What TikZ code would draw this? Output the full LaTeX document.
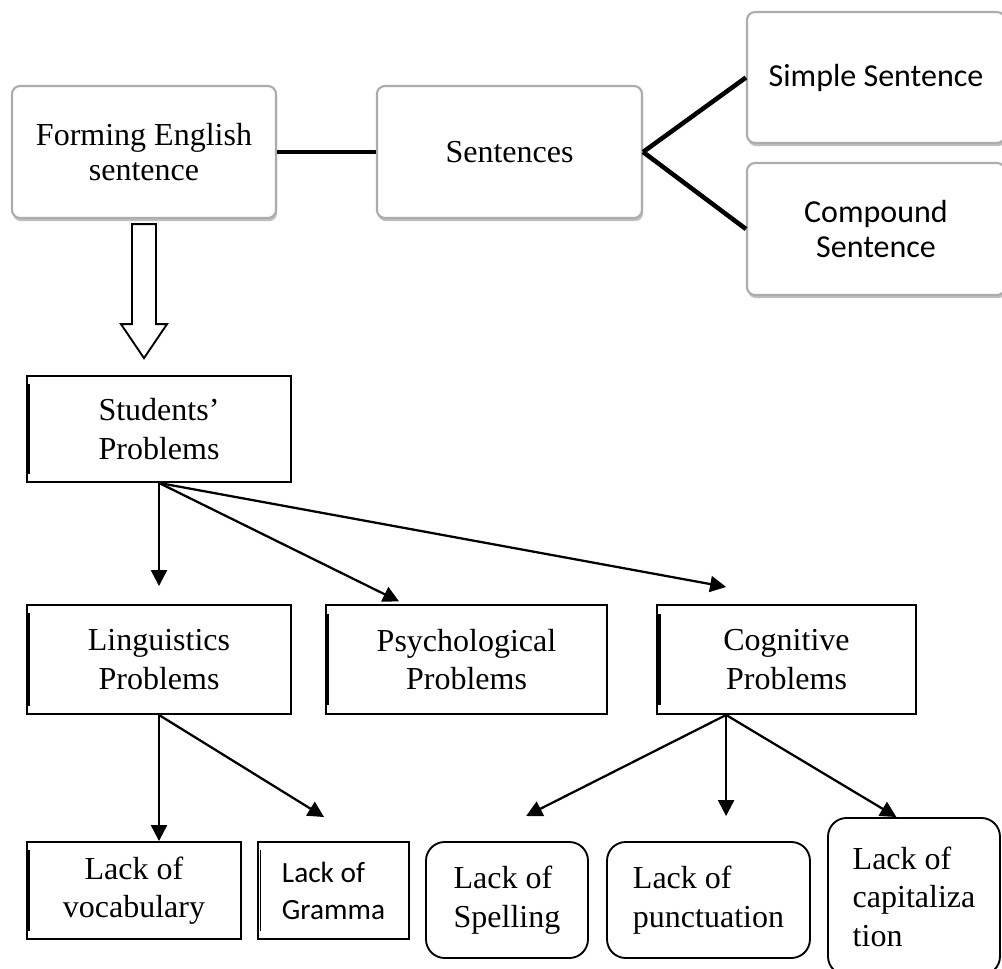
\documentclass[tikz,border=0pt]{standalone}
\usepackage{fontspec}
\setmainfont{Liberation Serif}
\newfontfamily\calibri{Carlito}
\usetikzlibrary{shadows,calc,arrows.meta}

\tikzset{
  shadebox/.style={draw=gray!65, line width=0.8pt, rounded corners=3pt, fill=white,
    drop shadow={shadow xshift=0.4pt, shadow yshift=-1.2pt, opacity=0.5, fill=gray},
    align=center, font=\fontsize{12}{13}\selectfont},
  probbox/.style={draw, line width=0.7pt, fill=white, align=center, font=\fontsize{12}{14.4}\selectfont},
  lackbox/.style={draw, line width=0.7pt, rounded corners=7pt, align=left, font=\fontsize{12}{14.4}\selectfont},
  thickline/.style={line width=1.7pt},
  arr/.style={line width=0.85pt, -{Triangle[length=6pt,width=6pt]}},
}

\begin{document}
\begin{tikzpicture}[x=0.375pt, y=-0.375pt]
\useasboundingbox (0,0) rectangle (1002,969);
\clip (0,0) rectangle (1002,969);

% sentence forms
\node[shadebox, minimum width=99pt, minimum height=49.5pt] (form) at (144,152) {Forming English\\sentence};
\node[shadebox, minimum width=99.4pt, minimum height=49.5pt] (sent) at (509.5,152) {Sentences};
\node[shadebox, minimum width=96.75pt, minimum height=49.1pt, font=\calibri\fontsize{12}{13}\selectfont] (simple) at (876,77.5) {Simple Sentence};
\node[shadebox, minimum width=96.75pt, minimum height=49.5pt, font=\calibri\fontsize{12}{13}\selectfont] (compound) at (876,229) {Compound\\Sentence};

\draw[thickline] (form.east) -- (sent.west);
\draw[thickline] (sent.east) -- (simple.west);
\draw[thickline] (sent.east) -- (compound.west);

% big hollow arrow
\draw[line width=0.7pt, fill=white] ([xshift=-4.5pt,yshift=-1.9pt]form.south) -- ++(0,100) -- ++(-11,0)
  -- ++(23,34) -- ++(23,-34) -- ++(-11,0) -- ++(0,-100) -- cycle;

% problems
\node[probbox, minimum width=99pt, minimum height=39.75pt] (stud) at (159,429) {Students’\\Problems};
\node[probbox, minimum width=99pt, minimum height=40.9pt] (ling) at (159,659.5) {Linguistics\\Problems};
\node[probbox, minimum width=105.4pt, minimum height=40.9pt] (psych) at (466.5,659.5) {Psychological\\Problems};
\node[probbox, minimum width=97.1pt, minimum height=40.9pt] (cogn) at (786.5,659.5) {Cognitive\\Problems};

% lacks
\node[probbox, minimum width=80.25pt, minimum height=36.4pt] (vocab) at (134,890.5) {Lack of\\vocabulary};
\node[probbox, align=left, minimum width=56.6pt, minimum height=36.4pt, font=\calibri\fontsize{11}{13.9}\selectfont] (gram) at (333.5,890.5) {Lack of\\Gramma};
\node[lackbox, minimum width=60.75pt, minimum height=43.5pt] (spell) at (507,900) {Lack of\\Spelling};
\node[lackbox, minimum width=76.1pt, minimum height=43.5pt] (punct) at (708.5,900) {Lack of\\punctuation};
\node[lackbox, minimum width=64.5pt, minimum height=58.9pt] (caps) at (914,896.5) {Lack of\\capitaliza\\tion};

% left edge marks
\foreach \n in {psych,cogn}
  \draw[line width=1.3pt] ([xshift=1pt,yshift=-3.75pt]\n.north west) -- ([xshift=1pt,yshift=3.75pt]\n.south west);
\foreach \n in {stud,ling,vocab,gram}
  \draw[line width=0.4pt] ([xshift=1.1pt,yshift=-3.5pt]\n.north west) -- ([xshift=1.1pt,yshift=3.5pt]\n.south west);

\draw[arr] (stud.south) -- ([yshift=6.75pt]ling.north);
\draw[arr] (stud.south) -- ([xshift=27.75pt,yshift=1pt]psych.north west);
\draw[arr] (stud.south) -- ([xshift=26.25pt,yshift=6.4pt]cogn.north west);

\draw[arr] (ling.south) -- (ling.south |- vocab.north);
\draw[arr] (ling.south) -- ([xshift=25.1pt,yshift=9pt]gram.north west);

\coordinate (cs) at ([xshift=26.25pt]cogn.south west);
\draw[arr] (cs) -- ([xshift=37.9pt,yshift=9.4pt]spell.north west);
\draw[arr] (cs) -- ($(cs |- punct.north)+(0,-25)$);
\draw[arr] (cs) -- ([xshift=26pt]caps.north west);
\end{tikzpicture}
\end{document}
